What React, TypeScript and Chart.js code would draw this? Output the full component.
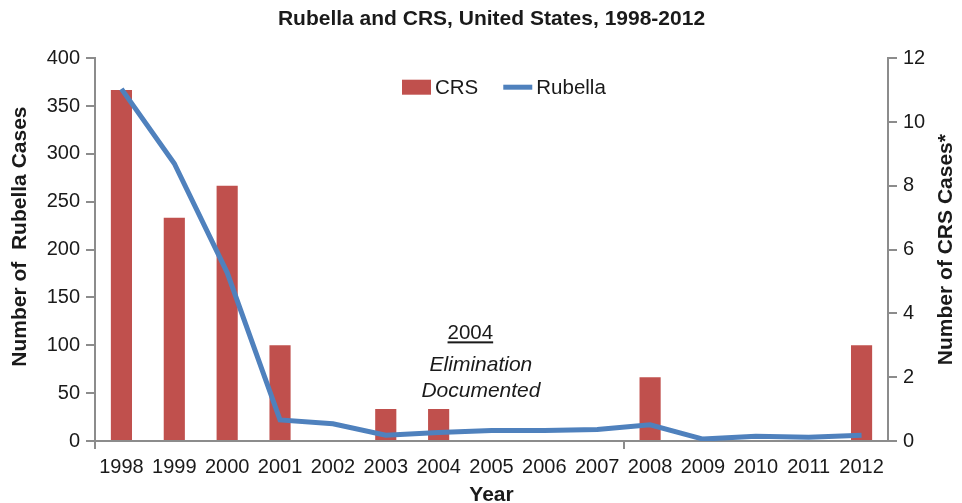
import React, { useEffect, useRef } from 'react';
import { Chart, registerables } from 'chart.js';

Chart.register(...registerables);

const years = ['1998', '1999', '2000', '2001', '2002', '2003', '2004', '2005', '2006', '2007', '2008', '2009', '2010', '2011', '2012'];
const crsCases = [11, 7, 8, 3, 0, 1, 1, 0, 0, 0, 2, 0, 0, 0, 3];
const rubellaCases = [368, 290, 176, 22, 18, 6, 9, 11, 11, 12, 17, 2, 5, 4, 6];

const leftMax = 400;
const leftStep = 50;
const rightMax = 12;
const rightStep = 2;

const chartTitle = 'Rubella and CRS, United States, 1998-2012';
const leftAxisTitle = 'Number of  Rubella Cases';
const rightAxisTitle = 'Number of CRS Cases*';
const xAxisTitle = 'Year';
const noteYear = '2004';
const noteLines = ['Elimination', 'Documented'];

const FONT = '"Liberation Sans", Arial, Helvetica, sans-serif';
const TEXT = '#1a1a1a';
const AXIS = '#8c8c8c';
const RED = '#C0504D';
const BLUE = '#4F81BD';

const textPlugin = {
  id: 'extraText',
  afterDraw(chart: any) {
    const ctx = chart.ctx;
    const area = chart.chartArea;
    const xs = chart.scales.x;
    const ys = chart.scales.y;
    const ds = chart.data.datasets;
    ctx.save();
    ctx.fillStyle = TEXT;
    ctx.textAlign = 'center';
    ctx.textBaseline = 'middle';

    // left axis title
    ctx.font = `bold 21px ${FONT}`;
    ctx.save();
    ctx.translate(20.5, (area.top + area.bottom) / 2 - 13);
    ctx.rotate(-Math.PI / 2);
    ctx.fillText(leftAxisTitle, 0, 0);
    ctx.restore();

    // right axis title (reads bottom to top)
    ctx.save();
    ctx.translate(chart.width - 16, (area.top + area.bottom) / 2);
    ctx.rotate(-Math.PI / 2);
    ctx.fillText(rightAxisTitle, 0, 0);
    ctx.restore();

    // annotation
    ctx.font = `20.5px ${FONT}`;
    const yx = xs.getPixelForValue(6.6);
    const yy = ys.getPixelForValue(113);
    ctx.fillText(noteYear, yx, yy);
    const w = ctx.measureText(noteYear).width;
    ctx.fillRect(yx - w / 2, yy + 8.5, w, 2);

    ctx.font = `italic 21px ${FONT}`;
    const lx = xs.getPixelForValue(6.8);
    ctx.fillText(noteLines[0], lx, ys.getPixelForValue(79));
    ctx.fillText(noteLines[1], lx, ys.getPixelForValue(52));

    // legend inside the plot area
    ctx.font = `20.5px ${FONT}`;
    ctx.textAlign = 'left';
    const ly = area.top + 29;
    let x = area.left + 307;
    ctx.fillStyle = ds[0].backgroundColor;
    ctx.fillRect(x, ly - 7.5, 29, 15);
    ctx.fillStyle = TEXT;
    ctx.fillText(ds[0].label, x + 33, ly + 1.5);
    x = x + 33 + ctx.measureText(ds[0].label).width + 25;
    ctx.strokeStyle = ds[1].borderColor;
    ctx.lineWidth = 5;
    ctx.beginPath();
    ctx.moveTo(x, ly);
    ctx.lineTo(x + 29, ly);
    ctx.stroke();
    ctx.fillText(ds[1].label, x + 33, ly + 1.5);
    ctx.restore();
  },
};

export default function App() {
  const ref = useRef<HTMLCanvasElement | null>(null);

  useEffect(() => {
    if (!ref.current) return;
    Chart.defaults.font.family = FONT;
    const chart = new Chart(ref.current, {
      type: 'bar',
      data: {
        labels: years,
        datasets: [
          {
            type: 'bar',
            label: 'CRS',
            data: crsCases,
            backgroundColor: RED,
            borderWidth: 0,
            yAxisID: 'y1',
            order: 1,
            barPercentage: 0.4,
            categoryPercentage: 1,
          } as any,
          {
            type: 'line',
            label: 'Rubella',
            data: rubellaCases,
            borderColor: BLUE,
            backgroundColor: BLUE,
            borderWidth: 5,
            pointRadius: 0,
            tension: 0,
            yAxisID: 'y',
            order: 0,
          } as any,
        ],
      },
      options: {
        responsive: false,
        maintainAspectRatio: false,
        animation: false,
        layout: { padding: 0 },
        plugins: {
          tooltip: { enabled: false },
          legend: { display: false },
          title: {
            display: true,
            text: chartTitle,
            fullSize: false,
            color: TEXT,
            font: { size: 21, weight: 'bold', family: FONT },
            padding: { top: 7, bottom: 26 },
          },
        },
        scales: {
          x: {
            offset: true,
            grid: {
              offset: true,
              drawOnChartArea: false,
              drawTicks: true,
              tickLength: 8,
              lineWidth: 2,
              color: (c: any) => (c.index === 0 || c.index === 10 ? AXIS : 'rgba(0,0,0,0)'),
            },
            border: { color: AXIS, width: 2 },
            ticks: { color: TEXT, font: { size: 20 }, padding: 6, maxRotation: 0, autoSkip: false },
            title: {
              display: true,
              text: xAxisTitle,
              color: TEXT,
              font: { size: 21, weight: 'bold' },
              padding: { top: 0, bottom: -5 },
            },
            afterFit: (s: any) => { s.height = 62; },
          },
          y: {
            position: 'left',
            min: 0,
            max: leftMax,
            ticks: { stepSize: leftStep, color: TEXT, font: { size: 20 }, padding: 6 },
            grid: { drawOnChartArea: false, tickLength: 9, color: AXIS, lineWidth: 2 },
            border: { color: AXIS, width: 2 },
            afterFit: (s: any) => { s.width = 95; },
          },
          y1: {
            position: 'right',
            min: 0,
            max: rightMax,
            ticks: { stepSize: rightStep, color: TEXT, font: { size: 20 }, padding: 6 },
            grid: { drawOnChartArea: false, tickLength: 9, color: AXIS, lineWidth: 2 },
            border: { color: AXIS, width: 2 },
            afterFit: (s: any) => { s.width = 74; },
          },
        },
      } as any,
      plugins: [textPlugin],
    });
    return () => chart.destroy();
  }, []);

  return (
    <div style={{ position: 'absolute', left: 0, top: 0, width: 962, height: 503, background: '#fff' }}>
      <canvas ref={ref} width={962} height={503} style={{ display: 'block', width: 962, height: 503 }} />
    </div>
  );
}
